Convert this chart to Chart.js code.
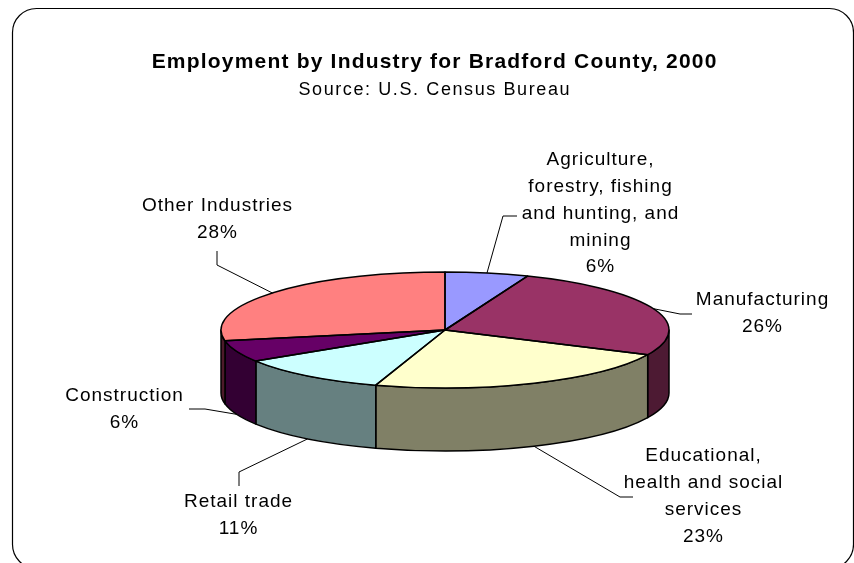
<!DOCTYPE html>
<html>
<head>
<meta charset="utf-8">
<script src="https://cdn.jsdelivr.net/npm/chart.js@4.4.1/dist/chart.umd.min.js"></script>
<style>
  html, body { margin: 0; padding: 0; background: #fff; }
  canvas { display: block; }
</style>
</head>
<body>
<canvas id="pie-chart" width="854" height="563"></canvas>
<script>
const categories = [
  "Agriculture, forestry, fishing and hunting, and mining",
  "Manufacturing",
  "Educational, health and social services",
  "Retail trade",
  "Construction",
  "Other Industries",
];
const shares = [6, 26, 23, 11, 6, 28];
const labelLines = [
  ["Agriculture,", "forestry, fishing", "and hunting, and", "mining"],
  ["Manufacturing"],
  ["Educational,", "health and social", "services"],
  ["Retail trade"],
  ["Construction"],
  ["Other Industries"],
];
const topColors = ["#9999ff", "#993366", "#ffffcc", "#ccffff", "#660066", "#ff8080"];
const sideColors = ["#4d4d80", "#4d1a33", "#808066", "#668080", "#330033", "#4d1a2a"];

const TILT = 58 / 224;
const DEPTH = 63;
const FONT = '"Liberation Sans", Arial, sans-serif';

// where each label sits and how its leader line bends
const labelSpots = [
  { x: 600, y: 160, elbow: [503, 216], end: [517, 216] },
  { x: 762, y: 300, elbow: [680, 314], end: [692, 314] },
  { x: 703, y: 456, elbow: [620, 497], end: [633, 497] },
  { x: 238, y: 502, elbow: [239, 472], end: [239, 486] },
  { x: 124, y: 396, elbow: [205, 409], end: [189, 409] },
  { x: 217, y: 206, elbow: [217, 265], end: [217, 251] },
];

function spacedText(ctx, text, x, y, spacing) {
  ctx.letterSpacing = spacing + "px";
  ctx.fillText(text, x + spacing / 2, y);
  ctx.letterSpacing = "0px";
}

const frame = {
  id: "frame",
  beforeDraw(chart) {
    const ctx = chart.ctx;
    ctx.save();
    ctx.fillStyle = "#fff";
    ctx.fillRect(0, 0, chart.width, chart.height);
    ctx.strokeStyle = "#000";
    ctx.lineWidth = 1.2;
    ctx.beginPath();
    ctx.roundRect(12.5, 8.5, 841, 560, 24);
    ctx.stroke();
    ctx.fillStyle = "#000";
    ctx.textAlign = "center";
    ctx.textBaseline = "middle";
    ctx.font = "bold 21px " + FONT;
    spacedText(ctx, "Employment by Industry for Bradford County, 2000", 434, 62, 1.2);
    ctx.font = "18px " + FONT;
    spacedText(ctx, "Source: U.S. Census Bureau", 434, 90, 1.6);
    ctx.restore();
  },
};

const pie3d = {
  id: "pie3d",
  beforeDatasetsDraw(chart) {
    const ctx = chart.ctx;
    const arcs = chart.getDatasetMeta(0).data;
    const { x: cx, y: cy, outerRadius: r } = arcs[0];
    const ry = r * TILT;
    ctx.save();
    ctx.strokeStyle = "#000";
    ctx.lineWidth = 1.5;
    ctx.lineJoin = "round";
    arcs.forEach((arc, i) => {
      for (const off of [0, 2 * Math.PI]) {
        const a = Math.max(arc.startAngle, off);
        const b = Math.min(arc.endAngle, off + Math.PI);
        if (b <= a) continue;
        ctx.beginPath();
        ctx.ellipse(cx, cy, r, ry, 0, a, b);
        ctx.ellipse(cx, cy + DEPTH, r, ry, 0, b, a, true);
        ctx.closePath();
        ctx.fillStyle = sideColors[i];
        ctx.fill();
        ctx.stroke();
      }
    });
    ctx.restore();
    // squash the library's pie into the top face
    ctx.save();
    ctx.translate(cx, cy);
    ctx.scale(1, TILT);
    ctx.translate(-cx, -cy);
  },
  afterDatasetsDraw(chart) {
    const ctx = chart.ctx;
    ctx.restore();
    const arcs = chart.getDatasetMeta(0).data;
    const { x: cx, y: cy, outerRadius: r } = arcs[0];
    const ry = r * TILT;
    ctx.save();
    ctx.strokeStyle = "#000";
    ctx.lineWidth = 1.5;
    ctx.lineJoin = "round";
    arcs.forEach((arc) => {
      ctx.beginPath();
      ctx.moveTo(cx, cy);
      ctx.ellipse(cx, cy, r, ry, 0, arc.startAngle, arc.endAngle);
      ctx.closePath();
      ctx.stroke();
    });

    // leader lines and labels
    const total = shares.reduce((s, v) => s + v, 0);
    ctx.lineWidth = 1;
    ctx.strokeStyle = "#000";
    ctx.fillStyle = "#000";
    ctx.font = "19px " + FONT;
    ctx.textAlign = "center";
    ctx.textBaseline = "middle";
    arcs.forEach((arc, i) => {
      const mid = (arc.startAngle + arc.endAngle) / 2;
      const ax = cx + r * Math.cos(mid);
      let ay = cy + ry * Math.sin(mid);
      if (Math.sin(mid) > 0) ay += DEPTH;
      const spot = labelSpots[i];
      ctx.beginPath();
      ctx.moveTo(ax, ay);
      ctx.lineTo(spot.elbow[0], spot.elbow[1]);
      ctx.lineTo(spot.end[0], spot.end[1]);
      ctx.stroke();
      const lines = labelLines[i].concat([Math.round((shares[i] / total) * 100) + "%"]);
      lines.forEach((t, j) => spacedText(ctx, t, spot.x, spot.y + j * 26.8, 1.0));
    });
    ctx.restore();
  },
};

new Chart(document.getElementById("pie-chart"), {
  type: "pie",
  data: {
    labels: categories,
    datasets: [
      {
        data: shares,
        backgroundColor: topColors,
        borderWidth: 0,
        clip: false,
      },
    ],
  },
  options: {
    responsive: false,
    animation: false,
    events: [],
    layout: { padding: { left: 221, right: 185, top: 106, bottom: 9 } },
    plugins: {
      legend: { display: false },
      tooltip: { enabled: false },
    },
  },
  plugins: [frame, pie3d],
});
</script>
</body>
</html>
